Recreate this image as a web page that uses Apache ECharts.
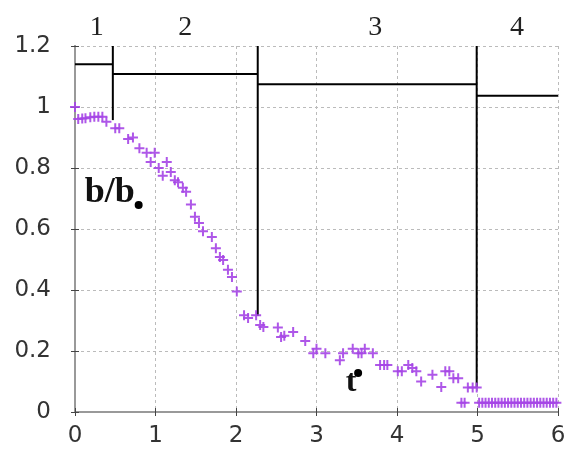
<!DOCTYPE html>
<html><head><meta charset="utf-8">
<script src="https://cdn.jsdelivr.net/npm/echarts@6/dist/echarts.min.js"></script>
<style>html,body{margin:0;padding:0;background:#fff}#c{width:569px;height:456px}</style>
</head><body><div id="c"></div>
<script>
// ---- data ----
const xTicks = [0, 1, 2, 3, 4, 5, 6];
const yTicks = [0, 0.2, 0.4, 0.6, 0.8, 1, 1.2];
const tValues = [0.00,0.04,0.09,0.13,0.19,0.24,0.29,0.34,0.39,0.50,0.55,0.66,0.72,0.80,0.89,0.94,0.99,
  1.04,1.09,1.14,1.19,1.24,1.28,1.34,1.38,1.44,1.49,1.54,1.59,1.70,1.75,1.80,1.84,1.90,1.95,2.01,
  2.10,2.15,2.25,2.30,2.34,2.52,2.56,2.60,2.71,2.86,2.96,3.00,3.11,3.29,3.33,3.45,3.52,3.56,3.60,3.70,
  3.79,3.84,3.88,4.01,4.06,4.14,4.19,4.24,4.30,4.44,4.55,4.60,4.65,4.70,4.76,4.80,4.84,4.88,4.94,4.99,
  5.02,5.06,5.10,5.14,5.18,5.22,5.26,5.30,5.34,5.38,5.42,5.46,5.50,5.54,5.58,5.62,5.66,5.70,5.74,5.78,5.82,5.86,5.90,5.94,5.98];
const bValues = [1.00,0.961,0.962,0.963,0.966,0.968,0.968,0.968,0.952,0.93,0.93,0.895,0.90,0.865,0.85,0.82,0.85,
  0.80,0.775,0.82,0.787,0.76,0.753,0.735,0.722,0.68,0.64,0.62,0.593,0.574,0.537,0.508,0.498,0.466,0.443,0.395,
  0.317,0.308,0.317,0.285,0.279,0.277,0.246,0.25,0.262,0.233,0.193,0.207,0.193,0.17,0.193,0.207,0.193,0.193,0.207,0.193,
  0.154,0.154,0.154,0.134,0.134,0.154,0.144,0.134,0.10,0.122,0.082,0.134,0.134,0.111,0.111,0.03,0.03,0.08,0.08,0.08,
  0.03,0.03,0.03,0.03,0.03,0.03,0.03,0.03,0.03,0.03,0.03,0.03,0.03,0.03,0.03,0.03,0.03,0.03,0.03,0.03,0.03,0.03,0.03,0.03,0.03];
const regionBounds = [0, 0.47, 2.27, 4.99, 6];
const regionLevels = [1.14, 1.108, 1.075, 1.037];
const dropEnds = [0.957, 0.315, 0.082];
const regionNames = ['1', '2', '3', '4'];
const regionLabelX = [0.27, 1.37, 3.73, 5.49];
const regionLabelY = 1.26;
const annB = { text: 'b/b', x: 0.12, y: 0.718 };
const annT = { text: 't', x: 3.43, y: 0.095 };

// ---- build ----
const scatterData = tValues.map((t, i) => [t, bValues[i]]);
const stepLines = [];
for (let i = 0; i < regionLevels.length; i++) {
  stepLines.push({ data: [[regionBounds[i], regionLevels[i]], [regionBounds[i + 1], regionLevels[i]]] });
}
for (let i = 1; i < regionBounds.length - 1; i++) {
  stepLines.push({ data: [[regionBounds[i], 1.2], [regionBounds[i], dropEnds[i - 1]]] });
}
const lineSeries = stepLines.map(s => ({
  type: 'line', data: s.data, symbol: 'none', silent: true, animation: false,
  lineStyle: { color: '#000', width: 2 }, z: 3
}));

const axisLabelStyle = { fontFamily: 'DejaVu Sans', fontSize: 23, color: '#333' };
const chart = echarts.init(document.getElementById('c'), null, { renderer: 'canvas' });
const option = {
  animation: false,
  backgroundColor: '#fff',
  grid: { left: 75, right: 11, top: 46, bottom: 44 },
  xAxis: [{
    type: 'value', min: 0, max: 6, interval: 1,
    axisLine: { show: true, lineStyle: { color: '#999', width: 2 } },
    axisTick: { show: true, inside: true, length: 4, lineStyle: { color: '#444' } },
    axisLabel: Object.assign({ margin: 13 }, axisLabelStyle),
    splitLine: { show: true, lineStyle: { color: '#bbb', type: [3, 3], width: 1 } }
  }, {
    type: 'value', min: 0, max: 6, interval: 1, position: 'top',
    axisLine: { show: true, lineStyle: { color: '#999', width: 2 } },
    axisTick: { show: true, inside: true, length: 4, lineStyle: { color: '#444' } },
    axisLabel: { show: false }, splitLine: { show: false }
  }],
  yAxis: [{
    type: 'value', min: 0, max: 1.2, interval: 0.2,
    axisLine: { show: true, lineStyle: { color: '#999', width: 2 } },
    axisTick: { show: true, inside: true, length: 4, lineStyle: { color: '#444' } },
    axisLabel: Object.assign({ margin: 24 }, axisLabelStyle),
    splitLine: { show: true, lineStyle: { color: '#bbb', type: [3, 3], width: 1 } }
  }, {
    type: 'value', min: 0, max: 1.2, interval: 0.2, position: 'right',
    axisLine: { show: true, lineStyle: { color: '#999', width: 2 } },
    axisTick: { show: true, inside: true, length: 4, lineStyle: { color: '#444' } },
    axisLabel: { show: false }, splitLine: { show: false }
  }],
  series: [{
    type: 'scatter', data: scatterData, z: 4,
    symbol: 'path://M4,0H6V4H10V6H6V10H4V6H0V4H4Z',
    symbolSize: 10,
    itemStyle: { color: '#a545e6', opacity: 0.9 }
  }].concat(lineSeries)
};
chart.setOption(option);

function px(x, y) { return chart.convertToPixel({ xAxisIndex: 0, yAxisIndex: 0 }, [x, y]); }
const graphics = [];
regionNames.forEach((n, i) => {
  const p = px(regionLabelX[i], regionLabelY);
  graphics.push({ type: 'text', x: p[0], y: p[1], z: 10,
    style: { text: n, fontFamily: 'Liberation Serif', fontSize: 28, fill: '#222', textAlign: 'center', textVerticalAlign: 'middle' } });
});
const pb = px(annB.x, annB.y);
graphics.push({ type: 'text', x: pb[0], y: pb[1], z: 10,
  style: { text: annB.text, fontFamily: 'Liberation Serif', fontWeight: 'bold', fontSize: 36, fill: '#111', textAlign: 'left', textVerticalAlign: 'middle' } });
graphics.push({ type: 'circle', shape: { cx: pb[0] + 54, cy: pb[1] + 12, r: 4 }, style: { fill: '#000' }, z: 10 });
const pt = px(annT.x, annT.y);
graphics.push({ type: 'text', x: pt[0], y: pt[1], z: 10,
  style: { text: annT.text, fontFamily: 'Liberation Serif', fontWeight: 'bold', fontSize: 32, fill: '#111', textAlign: 'center', textVerticalAlign: 'middle' } });
graphics.push({ type: 'circle', shape: { cx: pt[0] + 7, cy: pt[1] - 10, r: 4 }, style: { fill: '#000' }, z: 10 });
chart.setOption({ graphic: graphics });
</script></body></html>
